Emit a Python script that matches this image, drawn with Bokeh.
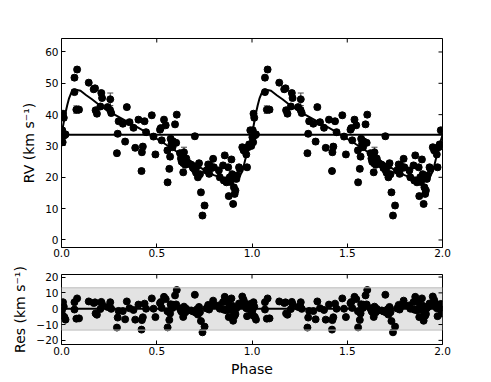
import numpy as np
from bokeh.plotting import figure
from bokeh.layouts import column
from bokeh.models import (Range1d, Span, Whisker, TeeHead, ColumnDataSource,
                          FixedTicker, PrintfTickFormatter, BoxAnnotation)
from bokeh.embed import file_html
from bokeh.resources import INLINE

# ---------------- data (one orbital cycle; shown twice) ----------------
phase = [0.002, 0.004, 0.006, 0.008, 0.012, 0.015, 0.021, 0.068, 0.068, 0.078, 0.082, 0.092,
         0.143, 0.169, 0.176, 0.179, 0.186, 0.204, 0.209, 0.213, 0.242, 0.255, 0.256, 0.261,
         0.291, 0.295, 0.300, 0.322, 0.334, 0.343, 0.357, 0.378, 0.387, 0.404, 0.420, 0.422,
         0.427, 0.436, 0.444, 0.474, 0.483, 0.493, 0.517, 0.521, 0.526, 0.538, 0.547, 0.556,
         0.557, 0.566, 0.570, 0.573, 0.578, 0.583, 0.585, 0.596, 0.602, 0.605, 0.622, 0.627,
         0.631, 0.634, 0.638, 0.639, 0.640, 0.643, 0.646, 0.650, 0.655, 0.660, 0.681, 0.690,
         0.699, 0.700, 0.706, 0.712, 0.716, 0.722, 0.727, 0.732, 0.740, 0.751, 0.761, 0.770,
         0.775, 0.779, 0.790, 0.796, 0.800, 0.826, 0.831, 0.848, 0.852, 0.857, 0.860, 0.866,
         0.875, 0.878, 0.883, 0.887, 0.892, 0.896, 0.901, 0.905, 0.909, 0.913, 0.918, 0.922,
         0.932, 0.936, 0.949, 0.956, 0.962, 0.970, 0.974, 0.979, 0.985, 0.991, 0.996]
rv = [32.8, 35.0, 31.2, 40.3, 39.0, 33.4, 33.7, 47.2, 51.8, 41.6, 54.4, 41.6,
      50.2, 48.1, 48.4, 41.4, 40.3, 42.6, 46.9, 45.3, 42.4, 41.5, 44.9, 40.5,
      27.7, 33.9, 37.9, 37.1, 31.4, 42.4, 37.6, 35.8, 29.4, 38.4, 22.0, 28.0,
      29.8, 37.9, 34.4, 39.8, 33.0, 27.3, 35.2, 35.7, 31.8, 38.4, 36.6, 28.6,
      18.4, 22.7, 26.6, 32.3, 30.7, 29.6, 31.5, 36.9, 31.0, 40.0, 27.7, 26.0,
      25.0, 27.0, 26.5, 21.6, 24.5, 28.0, 25.5, 24.0, 26.0, 24.8, 24.0, 23.0,
      22.5, 33.1, 21.5, 23.5, 20.0, 24.5, 21.0, 15.2, 7.8, 11.0, 22.2, 24.1,
      21.1, 23.8, 23.0, 25.9, 23.2, 22.2, 20.0, 23.8, 19.0, 27.0, 19.0, 18.4,
      23.2, 14.0, 20.0, 18.5, 25.7, 21.0, 11.5, 16.8, 14.7, 15.8, 19.5, 20.6,
      23.2, 22.7, 29.6, 28.6, 28.6, 27.3, 23.2, 29.6, 30.5, 35.0, 30.0]
rv_err = [0.8, 0.8, 0.8, 0.8, 0.8, 0.8, 0.8, 0.8, 0.8, 1.2, 0.8, 0.8,
          0.8, 0.8, 0.8, 0.8, 0.8, 0.8, 0.8, 0.8, 0.8, 0.8, 2.0, 0.8,
          0.8, 0.8, 0.8, 0.8, 0.8, 0.8, 0.8, 0.8, 0.8, 0.8, 0.8, 0.8,
          0.8, 0.8, 0.8, 0.8, 0.8, 0.8, 0.8, 0.8, 0.8, 0.8, 0.8, 0.8,
          0.8, 0.8, 0.8, 0.8, 0.8, 0.8, 0.8, 0.8, 0.8, 0.8, 0.8, 0.8,
          0.8, 0.8, 0.8, 0.8, 0.8, 1.6, 0.8, 0.8, 0.8, 0.8, 0.8, 0.8,
          0.8, 0.8, 0.8, 0.8, 0.8, 0.8, 0.8, 0.8, 0.8, 0.8, 0.8, 0.8,
          0.8, 0.8, 0.8, 0.8, 0.8, 0.8, 0.8, 0.8, 0.8, 0.8, 0.8, 0.8,
          0.8, 0.8, 0.8, 0.8, 0.8, 0.8, 0.8, 0.8, 0.8, 0.8, 0.8, 0.8,
          0.8, 0.8, 0.8, 0.8, 0.8, 0.8, 0.8, 0.8, 0.8, 0.8, 0.8]
res = [-1.2, 0.3, -4.3, 4.1, 1.3, -5.2, -6.9, -0.5, 4.1, -6.3, 6.5, -6.1,
       4.6, 3.6, 4.0, -3.0, -3.8, -0.2, 4.3, 2.8, 1.1, 0.7, 4.1, -0.1,
       -11.9, -5.6, -1.4, -1.5, -6.7, 4.6, 0.3, -0.8, -6.9, 2.6, -13.2, -7.2,
       -5.4, 3.2, 0.0, 6.5, 0.0, -5.3, 3.5, 4.2, 0.5, 7.5, 6.1, -1.6,
       -11.8, -7.1, -3.0, 2.8, 1.4, 0.5, 2.5, 8.4, 2.7, 11.8, 0.2, -1.3,
       -2.1, 0.0, -0.4, -5.2, -2.3, 1.3, -1.0, -2.3, -0.1, -1.1, -1.1, -1.7,
       -1.8, 8.8, -2.6, -0.3, -3.7, 1.1, -2.2, -7.8, -14.9, -11.3, 0.2, 2.4,
       -0.5, 2.0, 2.0, 5.1, 2.5, 2.1, 0.0, 4.2, -0.6, 7.5, -0.5, -1.0,
       3.9, -5.3, 0.8, -0.7, 6.5, 1.9, -7.6, -2.3, -4.4, -3.4, 0.3, 1.1,
       3.3, 2.0, 7.7, 5.6, 3.6, 0.3, -4.7, 0.7, 0.1, 3.0, -3.0]

# Keplerian model curve
model_phase = [0.00, 0.01, 0.02, 0.03, 0.04, 0.05, 0.06, 0.08, 0.10, 0.13, 0.16, 0.20, 0.25,
               0.30, 0.35, 0.40, 0.45, 0.50, 0.55, 0.60, 0.65, 0.70, 0.75, 0.80, 0.85, 0.88,
               0.91, 0.93, 0.95, 0.97, 0.99, 1.00]
model_rv = [33.5, 37.0, 40.3, 43.0, 45.3, 46.8, 47.6, 47.9, 47.6, 46.2, 44.9, 43.0, 41.0,
            39.3, 37.6, 35.9, 34.2, 32.3, 30.4, 28.4, 26.3, 24.3, 22.3, 20.7, 19.6, 19.2,
            19.1, 19.8, 22.0, 27.0, 31.5, 33.5]
gamma = 33.6              # systemic velocity
res_band = (-13.5, 13.2)  # residual scatter band

x_ticks = [0.0, 0.5, 1.0, 1.5, 2.0]
rv_ticks = [0, 10, 20, 30, 40, 50, 60]
res_ticks = [-20, -10, 0, 10, 20]
res_tick_labels = {-20: "\u221220", -10: "\u221210", 0: "0", 10: "10", 20: "20"}

X_RANGE = (0, 2)
RV_RANGE = (-2.4, 64.3)
RES_RANGE = (-22.6, 21.6)

# ---------------- build two-cycle arrays ----------------
ph = np.asarray(phase)
ph2 = np.concatenate([ph, ph + 1.0])
rv2 = np.concatenate([rv, rv])
err2 = np.concatenate([rv_err, rv_err])
res2 = np.concatenate([res, res])
mp = np.asarray(model_phase)
mph2 = np.concatenate([mp, mp + 1.0])
mrv2 = np.concatenate([model_rv, model_rv])

src = ColumnDataSource(dict(x=ph2, y=rv2, lo=rv2 - err2, hi=rv2 + err2, r=res2))

FONT = "DejaVu Sans"


def style(p, xt, yt, yr):
    p.xgrid.visible = False
    p.ygrid.visible = False
    p.outline_line_color = "black"
    p.outline_line_width = 1
    p.background_fill_color = "white"
    p.border_fill_color = "white"
    xa = p.below[0]
    ya = p.left[0]
    xa.ticker = FixedTicker(ticks=xt)
    ya.ticker = FixedTicker(ticks=yt)
    xa.formatter = PrintfTickFormatter(format="%.1f")
    for ax in (xa, ya):
        ax.major_tick_in = 4
        ax.major_tick_out = 0
        ax.minor_tick_line_color = None
        ax.axis_line_color = None
        ax.major_tick_line_color = "black"
        ax.major_label_text_font = FONT
        ax.major_label_text_font_size = "10.5px"
        ax.major_label_text_color = "black"
        ax.major_label_standoff = 3
        ax.axis_label_text_font = FONT
        ax.axis_label_text_font_size = "14px"
        ax.axis_label_text_font_style = "normal"
        ax.axis_label_text_color = "black"
        ax.axis_label_standoff = 5
    # inward ticks on the top and right edges (clipped to the frame)
    p.scatter(xt, [X_RANGE[0]] * 0 + [yr[1]] * len(xt), marker="dash", angle=np.pi / 2,
              size=8, line_color="black", line_width=1)
    p.scatter([X_RANGE[1]] * len(yt), yt, marker="dash", size=8,
              line_color="black", line_width=1)
    return xa, ya


# ---------------- main RV panel ----------------
p = figure(width=462, height=259, x_range=Range1d(*X_RANGE), y_range=Range1d(*RV_RANGE),
           output_backend="svg", toolbar_location=None,
           min_border_left=61, min_border_top=38, min_border_bottom=12, min_border_right=20)
p.add_layout(Span(location=gamma, dimension="width", line_color="black", line_width=2))
p.line(mph2, mrv2, line_color="black", line_width=2)
p.add_layout(Whisker(source=src, base="x", lower="lo", upper="hi", line_color="#444444",
                     line_width=1,
                     lower_head=TeeHead(size=6, line_color="#444444", line_width=1),
                     upper_head=TeeHead(size=6, line_color="#444444", line_width=1)))
p.scatter("x", "y", source=src, size=7, color="black")
pxa, pya = style(p, x_ticks, rv_ticks, RV_RANGE)
pya.axis_label = "RV (km s\u207b\u00b9)"
pxa.major_label_standoff = 1

# ---------------- residual panel ----------------
q = figure(width=462, height=123, x_range=Range1d(*X_RANGE), y_range=Range1d(*RES_RANGE),
           output_backend="svg", toolbar_location=None,
           min_border_left=61, min_border_top=15, min_border_bottom=38, min_border_right=20)
q.add_layout(BoxAnnotation(bottom=res_band[0], top=res_band[1], fill_color="#e3e3e3",
                           fill_alpha=1.0, line_color=None, level="underlay"))
q.add_layout(Span(location=res_band[0], dimension="width", line_color="#bdbdbd", line_width=1))
q.add_layout(Span(location=res_band[1], dimension="width", line_color="#bdbdbd", line_width=1))
q.add_layout(Span(location=0, dimension="width", line_color="black", line_width=2))
q.scatter("x", "r", source=src, size=7, color="black")
qxa, qya = style(q, x_ticks, res_ticks, RES_RANGE)
qya.axis_label = "Res (km s\u207b\u00b9)"
qya.major_label_overrides = res_tick_labels
qxa.axis_label = "Phase"
qxa.axis_label_standoff = 3
qxa.major_label_standoff = 2

layout = column(p, q, spacing=0)
open("out.html", "w").write(file_html(layout, INLINE))
